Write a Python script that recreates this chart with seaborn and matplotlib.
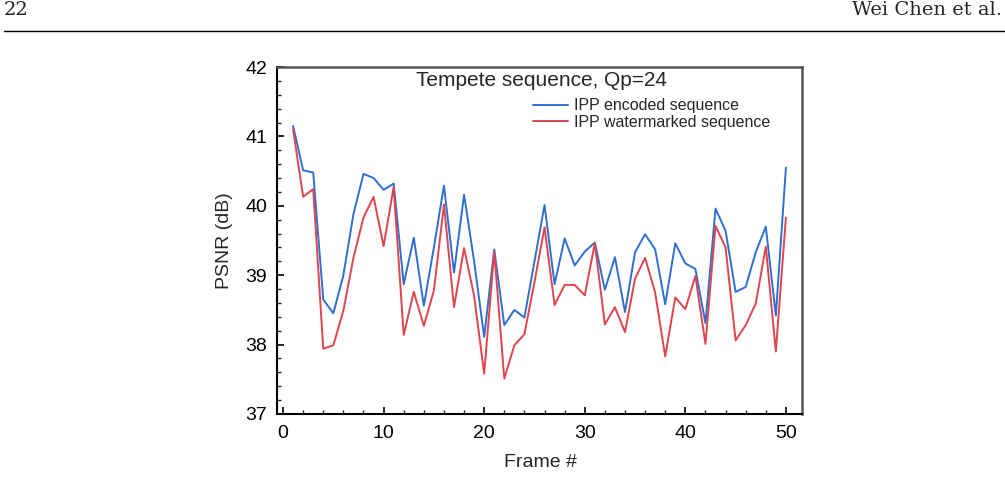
import numpy as np
import pandas as pd
import matplotlib.pyplot as plt
import seaborn as sns
from matplotlib.lines import Line2D
from matplotlib.ticker import MultipleLocator

# PSNR per frame
frames = list(range(1, 51))
psnr_encoded = [41.15, 40.51, 40.48, 38.65, 38.45, 39.00, 39.88, 40.46, 40.40, 40.23,
                40.32, 38.87, 39.54, 38.56, 39.40, 40.29, 39.04, 40.16, 39.20, 38.11,
                39.37, 38.28, 38.50, 38.39, 39.20, 40.01, 38.87, 39.53, 39.14, 39.34,
                39.47, 38.79, 39.26, 38.47, 39.33, 39.59, 39.37, 38.58, 39.46, 39.17,
                39.09, 38.31, 39.96, 39.64, 38.76, 38.83, 39.33, 39.70, 38.42, 40.55]
psnr_watermarked = [41.10, 40.13, 40.24, 37.94, 37.99, 38.49, 39.25, 39.83, 40.13, 39.42,
                    40.27, 38.14, 38.76, 38.27, 38.78, 40.02, 38.54, 39.39, 38.70, 37.58,
                    39.34, 37.51, 37.99, 38.15, 38.90, 39.69, 38.57, 38.86, 38.86, 38.71,
                    39.46, 38.29, 38.54, 38.18, 38.95, 39.25, 38.75, 37.83, 38.68, 38.51,
                    38.99, 38.01, 39.71, 39.40, 38.06, 38.28, 38.59, 39.41, 37.90, 39.83]
series_names = ['IPP encoded sequence', 'IPP watermarked sequence']
series_colors = ['#2f6fd2', '#e0444e']

df = pd.DataFrame({
    'frame': frames * 2,
    'psnr': psnr_encoded + psnr_watermarked,
    'series': [series_names[0]] * len(frames) + [series_names[1]] * len(frames),
})

sns.set_style('ticks')
plt.rcParams['font.family'] = ['Liberation Sans', 'DejaVu Sans']

fig = plt.figure(figsize=(10.05, 4.78), dpi=100)
ax = fig.add_axes([277 / 1005, 1 - 414 / 478, 525 / 1005, 347 / 478])

sns.lineplot(data=df, x='frame', y='psnr', hue='series', hue_order=series_names,
             palette=series_colors, linewidth=1.4, ax=ax, legend=False)

ax.set_xlim(-0.6, 51.6)
ax.set_ylim(37, 42)
ax.xaxis.set_major_locator(MultipleLocator(10))
ax.xaxis.set_minor_locator(MultipleLocator(2))
ax.yaxis.set_major_locator(MultipleLocator(1))
ax.yaxis.set_minor_locator(MultipleLocator(0.2))
ax.tick_params(which='major', direction='in', length=5, width=1.2, labelsize=14,
               colors='black')
ax.tick_params(axis='x', which='major', pad=8)
ax.tick_params(axis='y', which='major', pad=7)
ax.tick_params(which='minor', direction='in', length=2.8, width=1.0)

for side in ['left', 'bottom']:
    ax.spines[side].set_color('black')
    ax.spines[side].set_linewidth(1.5)
for side in ['top', 'right']:
    ax.spines[side].set_color('#555555')
    ax.spines[side].set_linewidth(1.8)

ax.set_xlabel('Frame #', fontsize=14)
ax.set_ylabel('PSNR (dB)', fontsize=14)
ax.xaxis.set_label_coords(0.501, -0.115)
ax.yaxis.set_label_coords(-0.084, 0.5)

ax.text(0.503, 0.9625, 'Tempete sequence, Qp=24', transform=ax.transAxes,
        ha='center', va='center', fontsize=15)

handles = [Line2D([], [], color=c, lw=1.4) for c in series_colors]
ax.legend(handles, series_names, loc='upper left', bbox_to_anchor=(0.488, 0.91),
          frameon=False, fontsize=11.5, handlelength=2.2, handletextpad=0.35,
          labelspacing=0.1, borderpad=0, borderaxespad=0)

# page header of the paper
fig.text(4 / 1005, 1 - 10 / 478, '22', ha='left', va='center', fontsize=14,
         family='DejaVu Serif')
fig.text(1002 / 1005, 1 - 10 / 478, 'Wei Chen et al.', ha='right', va='center',
         fontsize=14, family='DejaVu Serif')
fig.add_artist(Line2D([4 / 1005, 1.0], [1 - 30.5 / 478] * 2, color='black', lw=1.0,
                      transform=fig.transFigure))

fig.savefig('out.png', dpi=100)
